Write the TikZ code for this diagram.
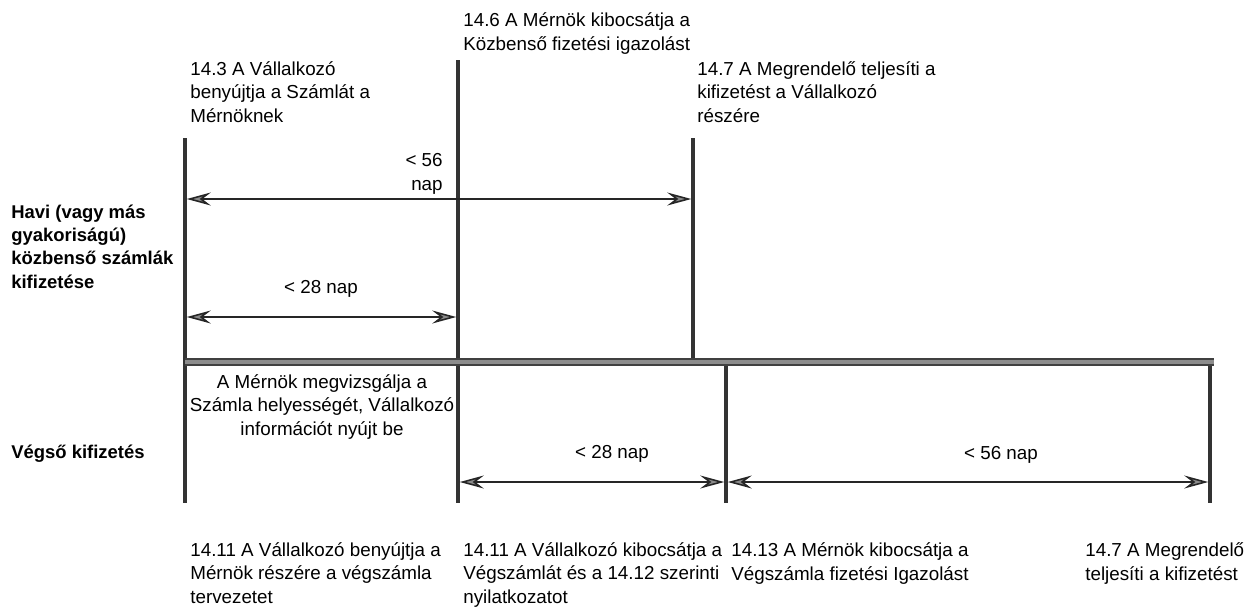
\documentclass[tikz,border=0pt]{standalone}
\usepackage{fontspec}
\setmainfont{Liberation Sans}
\usetikzlibrary{arrows.meta}

\begin{document}
\begin{tikzpicture}[x=0.02cm, y=-0.02cm,
    >={Stealth[length=4.8mm, width=2.6mm, inset=1.7mm, fill=black!45]},
    stem/.style={draw=black!80, line width=1.9pt},
    axisline/.style={draw=black!75, line width=0.9pt, double=black!45, double distance=2.2pt},
    span/.style={<->, draw=black!85, line width=0.9pt, shorten <=1pt, shorten >=1pt},
    note/.style={inner sep=0pt, align=left, font=\fontsize{10.7}{13.2}\selectfont},
    rowlabel/.style={inner sep=0pt, align=left, font=\fontsize{10.5}{13.2}\selectfont\bfseries}]
  \useasboundingbox (0,0) rectangle (1254,610);
  \coordinate (A1) at (185,138);  \coordinate (A2) at (185,503);
  \coordinate (B1) at (458,60);   \coordinate (B2) at (458,503);
  \coordinate (C1) at (693,138);  \coordinate (C2) at (693,360);
  \coordinate (D1) at (726,364);  \coordinate (D2) at (726,503);
  \coordinate (E1) at (1210,364); \coordinate (E2) at (1210,503);
  \coordinate (L) at (185,362);   \coordinate (R) at (1214,362);
  \coordinate (m56l) at (185,199); \coordinate (m56r) at (693,199);
  \coordinate (m28l) at (185,317); \coordinate (m28r) at (458,317);
  \coordinate (f28l) at (458,482); \coordinate (f28r) at (726,482);
  \coordinate (f56l) at (726,482); \coordinate (f56r) at (1210,482);
  \draw[stem] (A1) -- (A2);
  \draw[stem] (B1) -- (B2);
  \draw[stem] (C1) -- (C2);
  \draw[stem] (D1) -- (D2);
  \draw[stem] (E1) -- (E2);
  \draw[axisline] (L) -- (R);
  \draw[span] (m56l) -- (m56r);
  \draw[span] (m28l) -- (m28r);
  \draw[span] (f28l) -- (f28r);
  \draw[span] (f56l) -- (f56r);
  \node[note, anchor=base west] (n146) at (463,50) {14.6 A Mérnök kibocsátja a\\Közbenső fizetési igazolást};
  \node[note, anchor=base west] (n143) at (190,122) {14.3 A Vállalkozó\\benyújtja a Számlát a\\Mérnöknek};
  \node[note, anchor=base west] (n147) at (697,122) {14.7 A Megrendelő teljesíti a\\kifizetést a Vállalkozó\\részére};
  \node[note, align=right, anchor=base east] (d56a) at (443,190) {< 56\\nap};
  \node[note, anchor=base] (d28a) at (321,293) {< 28 nap};
  \node[rowlabel, anchor=base west] (row1) at (11,288) {Havi (vagy más\\gyakoriságú)\\közbenső számlák\\kifizetése};
  \node[rowlabel, anchor=base west] (row2) at (11,458) {Végső kifizetés};
  \node[note, align=center, anchor=base] (check) at (322,435) {A Mérnök megvizsgálja a\\Számla helyességét, Vállalkozó\\információt nyújt be};
  \node[note, anchor=base] (d28b) at (612,458) {< 28 nap};
  \node[note, anchor=base] (d56b) at (1001,459) {< 56 nap};
  \node[note, anchor=base west] (n1411a) at (190,603) {14.11 A Vállalkozó benyújtja a\\Mérnök részére a végszámla\\tervezetet};
  \node[note, anchor=base west] (n1411b) at (463,603) {14.11 A Vállalkozó kibocsátja a\\Végszámlát és a 14.12 szerinti\\nyilatkozatot};
  \node[note, anchor=base west] (n1413) at (731,580) {14.13 A Mérnök kibocsátja a\\Végszámla fizetési Igazolást};
  \node[note, anchor=base west] (n147b) at (1085,580) {14.7 A Megrendelő\\teljesíti a kifizetést};
\end{tikzpicture}
\end{document}
